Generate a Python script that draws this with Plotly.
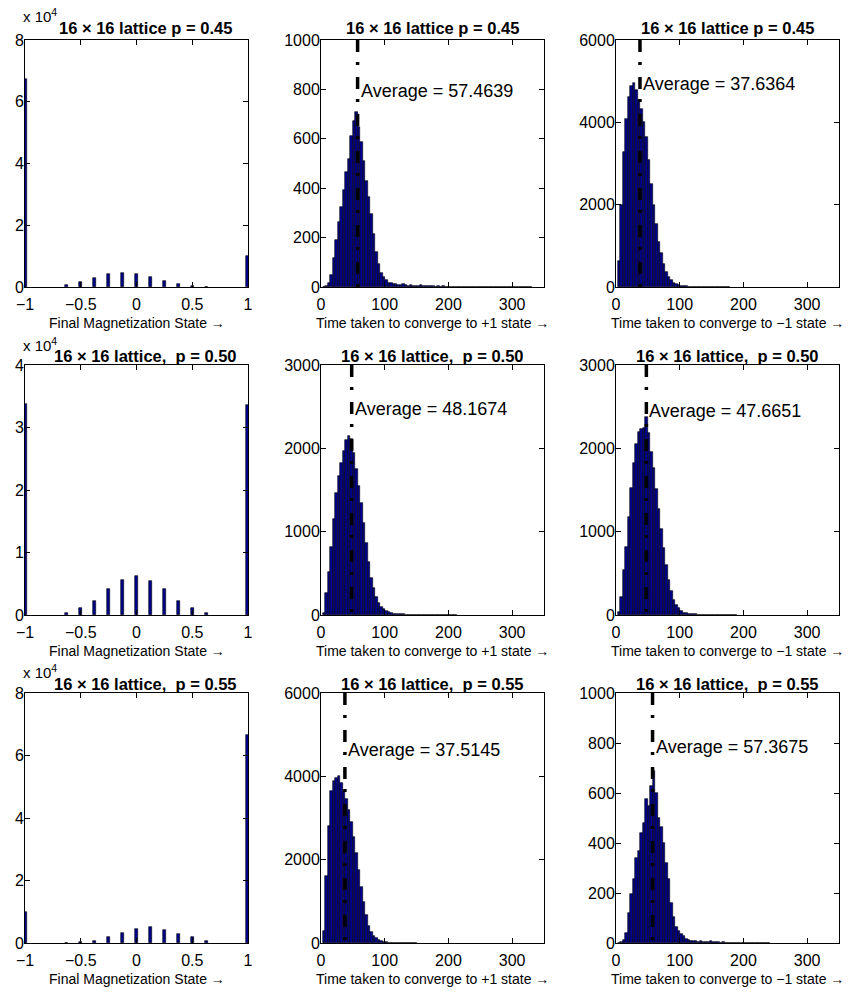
import numpy as np
import plotly.graph_objects as go

W, H = 853, 997

# ---------------- data ----------------
# Final magnetization histograms (counts, in units of 10^4)
mag_states = [-1.0, -0.625, -0.5, -0.375, -0.25, -0.125, 0.0, 0.125, 0.25, 0.375, 0.5, 0.625, 1.0]
mag_p045 = [6.73, 0.05, 0.16, 0.29, 0.41, 0.46, 0.43, 0.31, 0.18, 0.09, 0.03, 0.01, 0.99]
mag_p050 = [3.38, 0.03, 0.11, 0.23, 0.41, 0.56, 0.63, 0.55, 0.41, 0.23, 0.11, 0.03, 3.36]
mag_p055 = [0.98, 0.01, 0.02, 0.07, 0.19, 0.32, 0.45, 0.50, 0.43, 0.30, 0.18, 0.06, 6.67]

# Convergence-time histograms (bin counts); first bin centred at 5, bin width 3.9
time_bin_start = 5.0
time_bin_width = 3.9
t_plus_p045 = [0, 5, 15, 48, 116, 190, 263, 324, 391, 465, 519, 613, 671, 707, 646, 586, 512, 431,
               364, 297, 216, 142, 95, 55, 42, 28, 17, 15, 12, 14, 10, 8, 11, 7, 6, 8, 5, 6, 4, 9,
               4, 5, 3, 4, 3, 2, 3, 2, 4, 2, 1, 2, 1, 1, 2, 1, 0, 1, 1, 0, 1, 0, 1, 0, 0, 1, 0, 0,
               1, 0, 0, 0, 1, 0, 0, 0, 0, 1, 0, 0, 0, 0, 0, 1]
t_minus_p045 = [620, 2000, 3280, 4090, 4620, 4880, 4960, 4780, 4550, 4330, 4010, 3650, 3080, 2510,
                1990, 1540, 1100, 820, 570, 370, 250, 170, 105, 70, 45, 30, 20, 14, 10, 7, 5, 4,
                3, 2, 2, 1, 1, 1, 0, 1, 0, 1, 0, 0, 1]
t_plus_p050 = [25, 260, 520, 820, 1150, 1460, 1670, 1830, 1970, 2100, 2150, 2110, 1950, 1750, 1550,
               1340, 1100, 870, 640, 450, 320, 220, 145, 100, 70, 50, 35, 25, 18, 14, 10, 8, 7, 6,
               5, 4, 4, 3, 3, 2, 2, 2, 1, 1, 1, 1, 1, 0, 1, 0, 1, 0, 0, 1]
t_minus_p050 = [40, 220, 540, 820, 1180, 1520, 1830, 2050, 2200, 2230, 2250, 2380, 2190, 1960, 1760,
                1510, 1270, 1030, 800, 600, 420, 285, 185, 120, 80, 50, 30, 22, 16, 12, 9, 7, 6,
                5, 4, 3, 3, 2, 2, 1, 1, 1, 1, 0, 1, 0, 0, 1]
t_plus_p055 = [300, 1600, 2800, 3650, 3900, 3960, 4000, 3850, 3650, 3450, 3200, 2900, 2550, 2150,
               1750, 1350, 980, 680, 420, 270, 170, 110, 70, 45, 28, 18, 12, 8, 6, 4, 3, 2, 2, 1,
               1, 1, 0, 1]
t_minus_p055 = [0, 3, 12, 42, 120, 195, 255, 340, 368, 440, 480, 575, 550, 630, 690, 600, 500, 465,
                400, 320, 255, 160, 105, 65, 50, 38, 28, 18, 12, 8, 10, 7, 6, 8, 5, 6, 4, 7, 3, 4,
                3, 2, 3, 2, 1, 2, 1, 1, 2, 1, 0, 1, 1, 0, 1, 0, 0, 1, 0, 0, 1]

averages = {"plus_p045": 57.4639, "minus_p045": 37.6364,
            "plus_p050": 48.1674, "minus_p050": 47.6651,
            "plus_p055": 37.5145, "minus_p055": 57.3675}

titles = ["16 \u00d7 16 lattice p = 0.45",
          "16 \u00d7 16 lattice,\u00a0 p = 0.50",
          "16 \u00d7 16 lattice,\u00a0 p = 0.55"]
xlabel_mag = "Final Magnetization State \u2192"
xlabel_plus = "Time taken to converge to +1 state \u2192"
xlabel_minus = "Time taken to converge to \u22121 state \u2192"

# ---------------- layout helpers ----------------
FONT = "Liberation Sans, Arial, Helvetica, sans-serif"
NAVY = "rgb(0,0,140)"
cols = [(25, 248), (321, 544), (616, 839)]
rows = [(40, 287), (365, 615), (693, 943)]


def px(x):
    return x / W


def py(y):
    return 1 - y / H


fig = go.Figure()
layout = dict(width=W, height=H, margin=dict(l=0, r=0, t=0, b=0, autoexpand=False),
              paper_bgcolor="white", plot_bgcolor="white", showlegend=False,
              bargap=0, font=dict(family=FONT, color="black", size=16))
annotations = []

time_panels = [
    [("plus_p045", t_plus_p045, 1000, 200, xlabel_plus, 0.794),
     ("minus_p045", t_minus_p045, 6000, 2000, xlabel_minus, 0.823)],
    [("plus_p050", t_plus_p050, 3000, 1000, xlabel_plus, 0.823),
     ("minus_p050", t_minus_p050, 3000, 1000, xlabel_minus, 0.816)],
    [("plus_p055", t_plus_p055, 6000, 2000, xlabel_plus, 0.772),
     ("minus_p055", t_minus_p055, 1000, 200, xlabel_minus, 0.786)],
]
mag_data = [(mag_p045, 8, 2), (mag_p050, 4, 1), (mag_p055, 8, 2)]
title_y = [28, 356, 684]
exp_y = [15, 344, 671]

for r in range(3):
    y0, y1 = rows[r]
    for c in range(3):
        n = r * 3 + c + 1
        xa = "xaxis" if n == 1 else f"xaxis{n}"
        ya = "yaxis" if n == 1 else f"yaxis{n}"
        xref = "x" if n == 1 else f"x{n}"
        yref = "y" if n == 1 else f"y{n}"
        x0, x1 = cols[c]
        common = dict(showline=True, linecolor="black", linewidth=1, mirror="ticks",
                      ticks="inside", ticklen=5, tickcolor="black", tickwidth=1,
                      showgrid=False, zeroline=False, automargin=False,
                      tickfont=dict(family=FONT, size=16, color="black"))
        if c == 0:
            vals, ymax, dy = mag_data[r]
            fig.add_trace(go.Bar(x=mag_states, y=vals, width=0.03,
                                 marker=dict(color=NAVY, line=dict(color="black", width=0.6)),
                                 xaxis=xref, yaxis=yref))
            layout[xa] = dict(domain=[px(x0), px(x1)], anchor=yref, range=[-1, 1],
                              tickvals=[-1, -0.5, 0, 0.5, 1], ticklabelstandoff=3, **common)
            layout[ya] = dict(domain=[py(y1), py(y0)], anchor=xref, range=[0, ymax],
                              dtick=dy, tick0=0, ticklabelstandoff=-3, **common)
            xlabel = xlabel_mag
            annotations.append(dict(text="x 10<sup>4</sup>", x=px(x0 - 4), y=py(exp_y[r]),
                                    xref="paper", yref="paper", xanchor="left", yanchor="middle",
                                    showarrow=False, font=dict(family=FONT, size=15)))
        else:
            key, counts, ymax, dy, xlabel, tfrac = time_panels[r][c - 1]
            centers = time_bin_start + time_bin_width * np.arange(len(counts))
            fig.add_trace(go.Bar(x=centers, y=counts, width=time_bin_width,
                                 marker=dict(color=NAVY, line=dict(color="black", width=0.6)),
                                 xaxis=xref, yaxis=yref))
            m = averages[key]
            fig.add_trace(go.Scatter(x=[m, m], y=[ymax, 0], mode="lines",
                                     line=dict(color="black", width=3.5,
                                               dash="12px,10px,3px,12px"),
                                     xaxis=xref, yaxis=yref))
            annotations.append(dict(text=f"Average = {m:.4f}", x=m, y=tfrac * ymax,
                                    xref=xref, yref=yref, xanchor="left", yanchor="middle",
                                    xshift=1, showarrow=False,
                                    font=dict(family=FONT, size=18)))
            layout[xa] = dict(domain=[px(x0), px(x1)], anchor=yref, range=[0, 350],
                              tickvals=[0, 100, 200, 300], ticklabelstandoff=3, **common)
            layout[ya] = dict(domain=[py(y1), py(y0)], anchor=xref, range=[0, ymax],
                              dtick=dy, tick0=0, ticklabelstandoff=-3, **common)
        # title
        tcx = (x0 + x1) / 2 + (9 if c == 0 else 0)
        annotations.append(dict(text=f"<b>{titles[r]}</b>", x=px(tcx), y=py(title_y[r]),
                                xref="paper", yref="paper", xanchor="center", yanchor="middle",
                                showarrow=False, font=dict(family=FONT, size=16.5)))
        # x label
        annotations.append(dict(text=xlabel, x=px((x0 + x1) / 2), y=py(y1 + 36),
                                xref="paper", yref="paper", xanchor="center", yanchor="middle",
                                showarrow=False, font=dict(family=FONT, size=14)))

layout["annotations"] = annotations
fig.update_layout(**layout)
fig.write_html("out.html", config={"displayModeBar": False},
               post_script="document.body.style.margin='0px';")
